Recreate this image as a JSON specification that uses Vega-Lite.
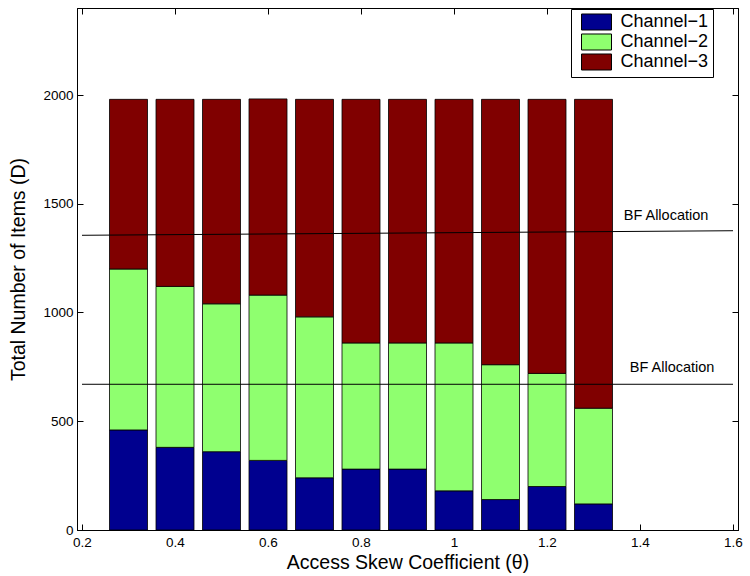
{
  "$schema": "https://vega.github.io/schema/vega-lite/v6.json",
  "width": 661,
  "height": 522,
  "autosize": {"type": "none"},
  "padding": {"left": 77, "top": 8, "right": 12, "bottom": 46},
  "background": "white",
  "config": {
    "font": "Liberation Sans",
    "view": {"stroke": "black", "strokeWidth": 1},
    "axis": {
      "grid": false,
      "domainColor": "black",
      "tickColor": "black",
      "labelColor": "black",
      "titleColor": "black",
      "labelFontSize": 13.5,
      "titleFontSize": 19.5,
      "titleFontWeight": "normal",
      "labelFont": "Liberation Sans",
      "titleFont": "Liberation Sans",
      "tickSize": -6
    }
  },
  "datasets": {
    "bars": [
      {"theta": 0.3, "channel": "Channel−1", "items": 460},
      {"theta": 0.3, "channel": "Channel−2", "items": 740},
      {"theta": 0.3, "channel": "Channel−3", "items": 780},
      {"theta": 0.4, "channel": "Channel−1", "items": 380},
      {"theta": 0.4, "channel": "Channel−2", "items": 740},
      {"theta": 0.4, "channel": "Channel−3", "items": 860},
      {"theta": 0.5, "channel": "Channel−1", "items": 360},
      {"theta": 0.5, "channel": "Channel−2", "items": 680},
      {"theta": 0.5, "channel": "Channel−3", "items": 940},
      {"theta": 0.6, "channel": "Channel−1", "items": 320},
      {"theta": 0.6, "channel": "Channel−2", "items": 760},
      {"theta": 0.6, "channel": "Channel−3", "items": 902},
      {"theta": 0.7, "channel": "Channel−1", "items": 240},
      {"theta": 0.7, "channel": "Channel−2", "items": 740},
      {"theta": 0.7, "channel": "Channel−3", "items": 1000},
      {"theta": 0.8, "channel": "Channel−1", "items": 280},
      {"theta": 0.8, "channel": "Channel−2", "items": 580},
      {"theta": 0.8, "channel": "Channel−3", "items": 1120},
      {"theta": 0.9, "channel": "Channel−1", "items": 280},
      {"theta": 0.9, "channel": "Channel−2", "items": 580},
      {"theta": 0.9, "channel": "Channel−3", "items": 1120},
      {"theta": 1.0, "channel": "Channel−1", "items": 180},
      {"theta": 1.0, "channel": "Channel−2", "items": 680},
      {"theta": 1.0, "channel": "Channel−3", "items": 1120},
      {"theta": 1.1, "channel": "Channel−1", "items": 140},
      {"theta": 1.1, "channel": "Channel−2", "items": 620},
      {"theta": 1.1, "channel": "Channel−3", "items": 1220},
      {"theta": 1.2, "channel": "Channel−1", "items": 200},
      {"theta": 1.2, "channel": "Channel−2", "items": 520},
      {"theta": 1.2, "channel": "Channel−3", "items": 1260},
      {"theta": 1.3, "channel": "Channel−1", "items": 120},
      {"theta": 1.3, "channel": "Channel−2", "items": 440},
      {"theta": 1.3, "channel": "Channel−3", "items": 1420}
    ],
    "bf": [
      {"line": "upper", "theta": 0.2, "items": 1355},
      {"line": "upper", "theta": 1.6, "items": 1376},
      {"line": "lower", "theta": 0.2, "items": 670},
      {"line": "lower", "theta": 1.6, "items": 670}
    ],
    "labels": [
      {"theta": 1.365, "items": 1444, "text": "BF Allocation"},
      {"theta": 1.378, "items": 745, "text": "BF Allocation"}
    ]
  },
  "layer": [
    {
      "data": {"name": "bars"},
      "mark": {"type": "bar", "size": 38, "stroke": "black", "strokeWidth": 0.8},
      "encoding": {
        "x": {
          "field": "theta",
          "type": "quantitative",
          "scale": {"domain": [0.2, 1.6], "nice": false, "zero": false},
          "axis": {
            "title": "Access Skew Coefficient (θ)",
            "values": [0.2, 0.4, 0.6, 0.8, 1.0, 1.2, 1.4, 1.6],
            "format": "~g",
            "labelPadding": 11,
            "titlePadding": 5
          }
        },
        "y": {
          "field": "items",
          "type": "quantitative",
          "stack": "zero",
          "scale": {"domain": [0, 2400], "nice": false},
          "axis": {
            "title": "Total Number of Items (D)",
            "values": [0, 500, 1000, 1500, 2000],
            "format": "d",
            "labelPadding": 10,
            "titlePadding": 14
          }
        },
        "color": {
          "field": "channel",
          "type": "nominal",
          "scale": {
            "domain": ["Channel−1", "Channel−2", "Channel−3"],
            "range": ["#00008F", "#8FFF6F", "#800000"]
          },
          "legend": {
            "title": null,
            "orient": "none",
            "legendX": 494,
            "legendY": 1,
            "strokeColor": "black",
            "fillColor": "white",
            "padding": 4,
            "labelFontSize": 18,
            "labelFont": "Liberation Sans",
            "labelColor": "black",
            "symbolType": "M-2,-1.067H2V1.067H-2Z",
            "symbolSize": 225,
            "symbolOffset": 12.5,
            "labelOffset": 15,
            "rowPadding": -2.5,
            "symbolStrokeColor": "black",
            "symbolStrokeWidth": 1,
            "symbolOpacity": 1
          }
        },
        "order": {"field": "channel", "sort": "ascending"}
      }
    },
    {
      "data": {"name": "bf"},
      "mark": {"type": "line", "color": "black", "strokeWidth": 1, "clip": true},
      "encoding": {
        "x": {
          "field": "theta",
          "type": "quantitative",
          "axis": {"orient": "top", "labels": false, "title": null, "values": [0.2, 0.4, 0.6, 0.8, 1.0, 1.2, 1.4, 1.6]}
        },
        "y": {
          "field": "items",
          "type": "quantitative",
          "axis": {"orient": "right", "labels": false, "title": null, "values": [0, 500, 1000, 1500, 2000]}
        },
        "detail": {"field": "line"}
      }
    },
    {
      "data": {"name": "labels"},
      "mark": {"type": "text", "align": "left", "baseline": "middle", "fontSize": 14.5, "font": "Liberation Sans", "color": "black"},
      "encoding": {
        "x": {"field": "theta", "type": "quantitative", "axis": null},
        "y": {"field": "items", "type": "quantitative", "axis": null},
        "text": {"field": "text"}
      }
    }
  ],
  "resolve": {"axis": {"x": "independent", "y": "independent"}}
}
